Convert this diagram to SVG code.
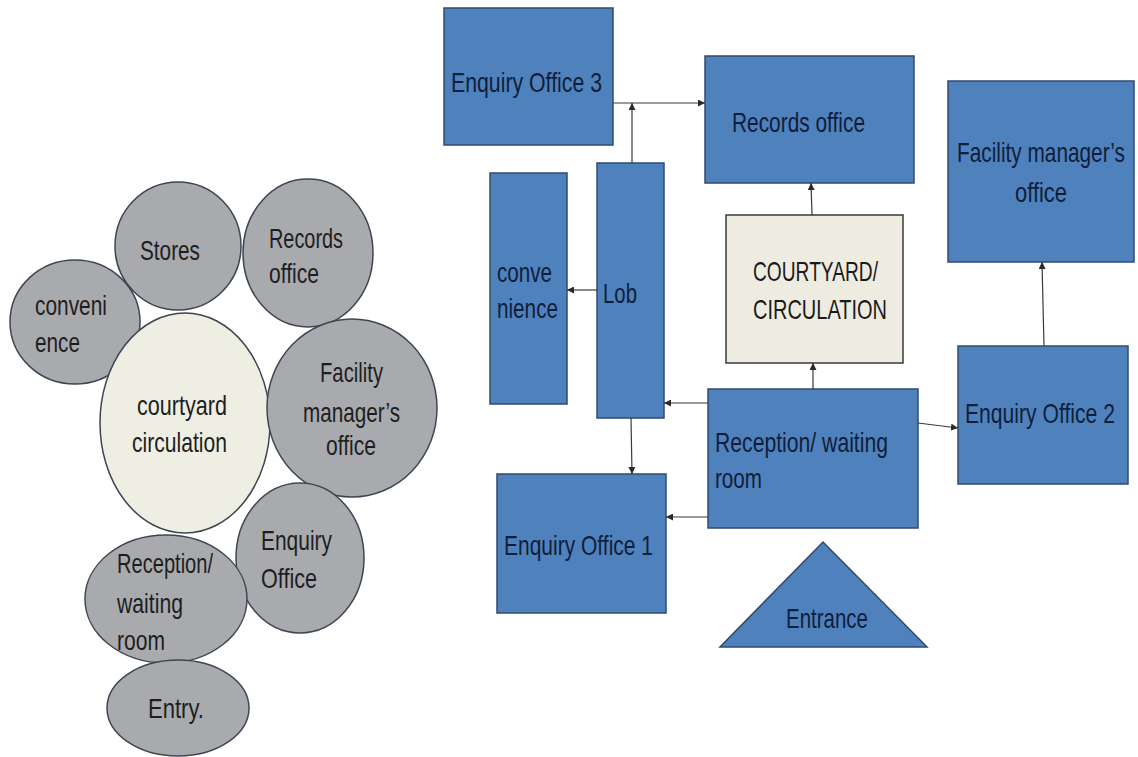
<svg xmlns="http://www.w3.org/2000/svg" width="1138" height="757" viewBox="0 0 1138 757">
<style>
.bub{fill:#A9AAAE;stroke:#3E4651;stroke-width:1.5}
.court{fill:#EFEEE3;stroke:#3E4651;stroke-width:1.5}
.box{fill:#4F81BD;stroke:#2F4B70;stroke-width:1.5}
.cbox{fill:#EEECE1;stroke:#3A3A3A;stroke-width:1.5}
text{font-family:"Liberation Sans",Arial,sans-serif;font-size:27px}
.lt{fill:#1E1E1E}
.bt{fill:#0F1E3A}
.ct{fill:#1A1A1A}
.conn line{stroke:#3A3A3A;stroke-width:1.2;marker-end:url(#ah)}
</style>
<defs>
<marker id="ah" viewBox="0 0 10 10" refX="10" refY="5" markerWidth="7" markerHeight="7" markerUnits="userSpaceOnUse" orient="auto">
<path d="M0,0 L10,5 L0,10 z" fill="#2A2A2A"/>
</marker>
</defs>
<rect width="1138" height="757" fill="#FFFFFF"/>

<!-- Left bubble diagram -->
<g id="b-stores"><ellipse class="bub" cx="178" cy="246" rx="63" ry="64"/><text class="lt" transform="matrix(0.78 0 0 1 140 260)" textLength="76.9" lengthAdjust="spacingAndGlyphs">Stores</text></g>
<g id="b-records"><ellipse class="bub" cx="308" cy="253" rx="65" ry="74"/><text class="lt" transform="matrix(0.78 0 0 1 269 248)" textLength="94.9" lengthAdjust="spacingAndGlyphs">Records</text><text class="lt" transform="matrix(0.78 0 0 1 269 283)" textLength="64.1" lengthAdjust="spacingAndGlyphs">office</text></g>
<g id="b-convenience"><ellipse class="bub" cx="75" cy="322" rx="65" ry="62"/><text class="lt" transform="matrix(0.78 0 0 1 35 315)" textLength="92.3" lengthAdjust="spacingAndGlyphs">conveni</text><text class="lt" transform="matrix(0.78 0 0 1 35 352)" textLength="57.7" lengthAdjust="spacingAndGlyphs">ence</text></g>
<g id="b-courtyard"><ellipse class="court" cx="185" cy="423" rx="85" ry="110"/><text class="lt" transform="matrix(0.78 0 0 1 137 415)" textLength="115.4" lengthAdjust="spacingAndGlyphs">courtyard</text><text class="lt" transform="matrix(0.78 0 0 1 132 452)" textLength="121.8" lengthAdjust="spacingAndGlyphs">circulation</text></g>
<g id="b-facility"><ellipse class="bub" cx="352" cy="408" rx="85" ry="89"/><text class="lt" transform="matrix(0.78 0 0 1 320 382)" textLength="80.8" lengthAdjust="spacingAndGlyphs">Facility</text><text class="lt" transform="matrix(0.78 0 0 1 303 422)" textLength="124.4" lengthAdjust="spacingAndGlyphs">manager’s</text><text class="lt" transform="matrix(0.78 0 0 1 326 455)" textLength="64.1" lengthAdjust="spacingAndGlyphs">office</text></g>
<g id="b-enquiry"><ellipse class="bub" cx="300" cy="558" rx="64" ry="75"/><text class="lt" transform="matrix(0.78 0 0 1 261 550)" textLength="91" lengthAdjust="spacingAndGlyphs">Enquiry</text><text class="lt" transform="matrix(0.78 0 0 1 261 588)" textLength="71.8" lengthAdjust="spacingAndGlyphs">Office</text></g>
<g id="b-reception"><ellipse class="bub" cx="166" cy="599" rx="81" ry="64"/><text class="lt" transform="matrix(0.78 0 0 1 117 573)" textLength="123.1" lengthAdjust="spacingAndGlyphs">Reception/</text><text class="lt" transform="matrix(0.78 0 0 1 117 613)" textLength="84.6" lengthAdjust="spacingAndGlyphs">waiting</text><text class="lt" transform="matrix(0.78 0 0 1 117 650)" textLength="61.5" lengthAdjust="spacingAndGlyphs">room</text></g>
<g id="b-entry"><ellipse class="bub" cx="178" cy="708" rx="71" ry="48"/><text class="lt" transform="matrix(0.78 0 0 1 148 718)" textLength="71.8" lengthAdjust="spacingAndGlyphs">Entry.</text></g>

<!-- Right block diagram -->
<g id="n-eo3"><rect class="box" x="444" y="8" width="169" height="137"/><text class="bt" transform="matrix(0.78 0 0 1 451 92)" textLength="193.6" lengthAdjust="spacingAndGlyphs">Enquiry Office 3</text></g>
<g id="n-records"><rect class="box" x="705" y="56" width="209" height="127"/><text class="bt" transform="matrix(0.78 0 0 1 732 132)" textLength="170.5" lengthAdjust="spacingAndGlyphs">Records office</text></g>
<g id="n-convenience"><rect class="box" x="490" y="173" width="77" height="231"/><text class="bt" transform="matrix(0.78 0 0 1 497 282)" textLength="70.5" lengthAdjust="spacingAndGlyphs">conve</text><text class="bt" transform="matrix(0.78 0 0 1 497 318)" textLength="78.2" lengthAdjust="spacingAndGlyphs">nience</text></g>
<g id="n-lob"><rect class="box" x="597" y="163" width="67" height="255"/><text class="bt" transform="matrix(0.78 0 0 1 603 303)" textLength="43.6" lengthAdjust="spacingAndGlyphs">Lob</text></g>
<g id="n-courtyard"><rect class="cbox" x="726" y="215" width="177" height="148"/><text class="ct" transform="matrix(0.78 0 0 1 753 281)" textLength="160.3" lengthAdjust="spacingAndGlyphs">COURTYARD/</text><text class="ct" transform="matrix(0.78 0 0 1 753 319)" textLength="171.8" lengthAdjust="spacingAndGlyphs">CIRCULATION</text></g>
<g id="n-reception"><rect class="box" x="708" y="389" width="210" height="139"/><text class="bt" transform="matrix(0.78 0 0 1 715 452)" textLength="221.8" lengthAdjust="spacingAndGlyphs">Reception/ waiting</text><text class="bt" transform="matrix(0.78 0 0 1 715 488)" textLength="60.3" lengthAdjust="spacingAndGlyphs">room</text></g>
<g id="n-eo1"><rect class="box" x="497" y="474" width="169" height="139"/><text class="bt" transform="matrix(0.78 0 0 1 504 555)" textLength="191" lengthAdjust="spacingAndGlyphs">Enquiry Office 1</text></g>
<g id="n-facility"><rect class="box" x="948" y="81" width="186" height="181"/><text class="bt" transform="matrix(0.78 0 0 1 957 162)" textLength="215.4" lengthAdjust="spacingAndGlyphs">Facility manager’s</text><text class="bt" transform="matrix(0.78 0 0 1 1015 202)" textLength="66.7" lengthAdjust="spacingAndGlyphs">office</text></g>
<g id="n-eo2"><rect class="box" x="958" y="346" width="170" height="138"/><text class="bt" transform="matrix(0.78 0 0 1 965 423)" textLength="192.3" lengthAdjust="spacingAndGlyphs">Enquiry Office 2</text></g>
<g id="n-entrance"><polygon class="box" points="823,542 927,647 720,647"/><text class="bt" transform="matrix(0.78 0 0 1 786 628)" textLength="105.1" lengthAdjust="spacingAndGlyphs">Entrance</text></g>

<g id="connectors" class="conn">
<line x1="613" y1="103" x2="705" y2="103"/>
<line x1="632" y1="163" x2="632" y2="103"/>
<line x1="812" y1="215" x2="811" y2="183"/>
<line x1="813" y1="389" x2="813" y2="363"/>
<line x1="708" y1="403" x2="664" y2="403"/>
<line x1="631" y1="418" x2="632" y2="474"/>
<line x1="708" y1="517" x2="666" y2="517"/>
<line x1="597" y1="290" x2="567" y2="290"/>
<line x1="918" y1="423" x2="958" y2="428"/>
<line x1="1044" y1="346" x2="1042" y2="262"/>
</g>
</svg>
